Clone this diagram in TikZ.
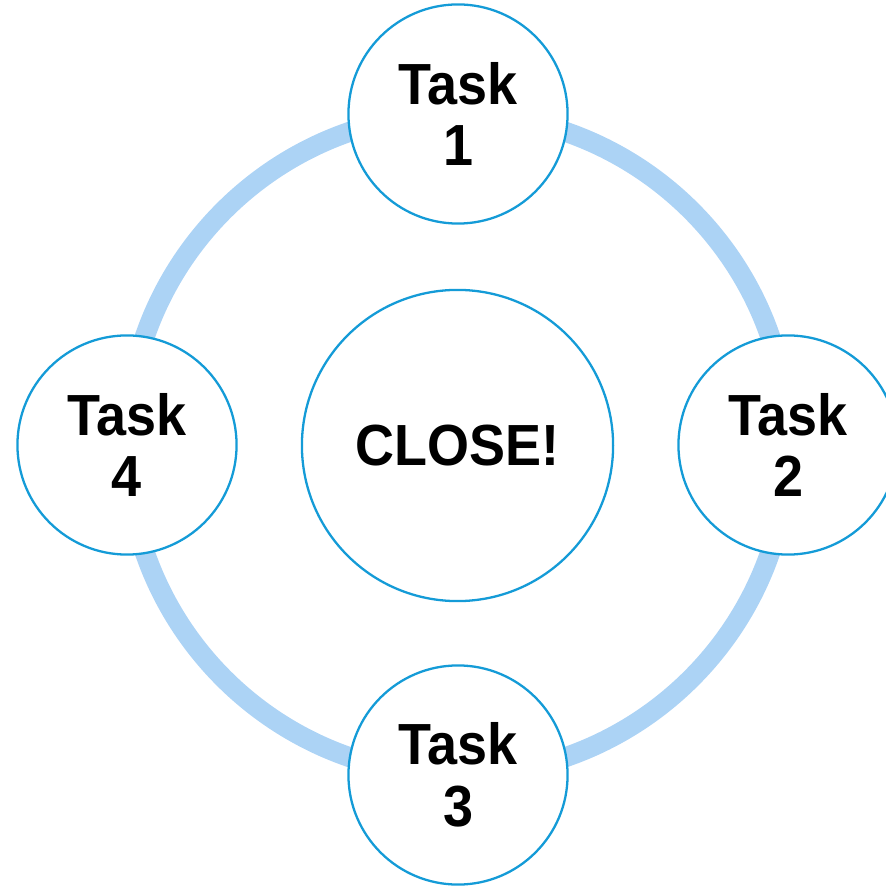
\documentclass[tikz,border=0pt]{standalone}
\usepackage{fontspec}
\setmainfont{Liberation Sans}[FakeStretch=0.93]
\usepackage{tikz}
\definecolor{ringblue}{RGB}{172,211,245}
\definecolor{edgeblue}{RGB}{20,155,215}

\begin{document}
\begin{tikzpicture}[x=0.01cm,y=-0.01cm]
    \useasboundingbox (0,0) rectangle (886,886);
    \draw[ringblue,line width=0.2cm] (457.5,444.5) circle[radius=3.305cm];

    \begin{scope}[every node/.style={circle,draw=edgeblue,line width=0.65pt,fill=white,
        inner sep=0pt,align=center,font=\fontsize{16.5}{17.6}\selectfont\bfseries}]
      \node[minimum size=2.19cm] (1) at (458,114) {Task\\1};
      \node[minimum size=2.19cm] (2) at (788,445) {Task\\2};
      \node[minimum size=2.19cm] (3) at (458,775) {Task\\3};
      \node[minimum size=2.19cm] (4) at (127,445) {Task\\4};
      \node[minimum size=3.11cm] (0) at (457.5,445.5) {CLOSE!};
    \end{scope}
  \end{tikzpicture}
\end{document}
